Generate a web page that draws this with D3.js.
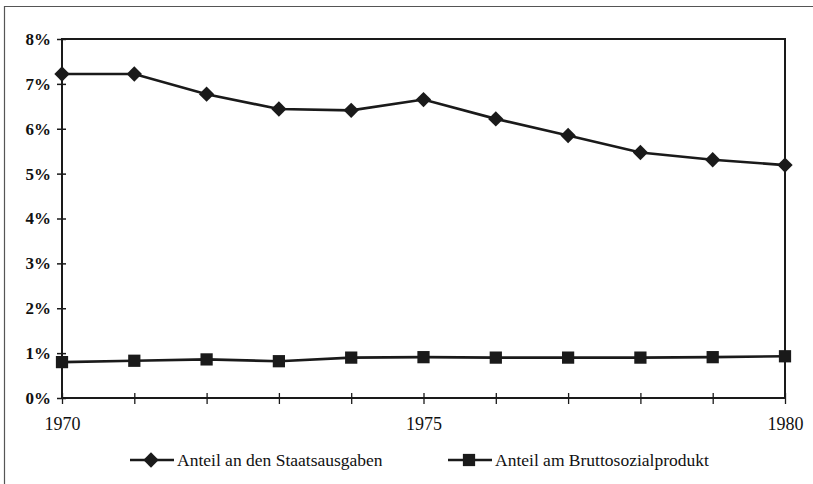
<!DOCTYPE html>
<html>
<head>
<meta charset="utf-8">
<script src="https://cdn.jsdelivr.net/npm/d3@7"></script>
<style>
  body { margin: 0; background: #fff; }
  svg text { font-family: "Liberation Serif", "Times New Roman", serif; fill: #111; }
</style>
</head>
<body>
<div id="container"></div>
<script>
// Data
const years = [1970, 1971, 1972, 1973, 1974, 1975, 1976, 1977, 1978, 1979, 1980];
const staatsausgaben = [7.22, 7.22, 6.77, 6.44, 6.41, 6.65, 6.22, 5.85, 5.47, 5.31, 5.19];
const bruttosozialprodukt = [0.80, 0.83, 0.86, 0.82, 0.90, 0.91, 0.90, 0.90, 0.90, 0.91, 0.93];
const yTicks = [0, 1, 2, 3, 4, 5, 6, 7, 8];
const xLabels = [1970, 1975, 1980];
const seriesNames = ["Anteil an den Staatsausgaben", "Anteil am Bruttosozialprodukt"];

const width = 813;
const height = 484;
const plot = { left: 62, right: 785, top: 39, bottom: 398 };

const svg = d3.select("#container")
    .append("svg")
    .attr("width", width)
    .attr("height", height);

// outer frame (only left and top visible in the scan)
svg.append("path")
    .attr("d", "M4.5,484 L4.5,6.5 L813,6.5")
    .attr("fill", "none")
    .attr("stroke", "#555")
    .attr("stroke-width", 1.2);

const x = d3.scaleLinear().domain([1970, 1980]).range([plot.left, plot.right]);
const y = d3.scaleLinear().domain([0, 8]).range([plot.bottom, plot.top]);

// plot frame
svg.append("rect")
    .attr("x", plot.left)
    .attr("y", plot.top)
    .attr("width", plot.right - plot.left)
    .attr("height", plot.bottom - plot.top)
    .attr("fill", "none")
    .attr("stroke", "#1a1a1a")
    .attr("stroke-width", 2);

// y axis
const yAxis = d3.axisLeft(y)
    .tickValues(yTicks)
    .tickFormat(d => d + "%")
    .tickSizeInner(5)
    .tickSizeOuter(0)
    .tickPadding(6);
const gy = svg.append("g")
    .attr("transform", `translate(${plot.left}, 0)`)
    .call(yAxis);
gy.select(".domain").remove();
gy.selectAll(".tick line")
    .attr("x1", -5).attr("x2", 4)
    .attr("stroke", "#1a1a1a").attr("stroke-width", 1.5);
gy.selectAll(".tick text")
    .attr("font-size", 17)
    .attr("font-weight", "bold")
    .attr("font-family", "Liberation Serif, serif");

// x axis
const xAxis = d3.axisBottom(x)
    .tickValues(years)
    .tickFormat(d => xLabels.includes(d) ? d : "")
    .tickSizeInner(6)
    .tickSizeOuter(0)
    .tickPadding(13);
const gx = svg.append("g")
    .attr("transform", `translate(0, ${plot.bottom})`)
    .call(xAxis);
gx.select(".domain").remove();
gx.selectAll(".tick line")
    .attr("y1", -5).attr("y2", 6)
    .attr("stroke", "#1a1a1a").attr("stroke-width", 1.3);
gx.selectAll(".tick text")
    .attr("font-size", 18)
    .attr("font-family", "Liberation Serif, serif");

// lines
const line = d3.line()
    .x((d, i) => x(years[i]))
    .y(d => y(d));

const diamond = d3.symbol().type(d3.symbolDiamond2).size(150);
const square = d3.symbol().type(d3.symbolSquare).size(150);

function drawSeries(values, sym) {
    svg.append("path")
        .datum(values)
        .attr("d", line)
        .attr("fill", "none")
        .attr("stroke", "#1a1a1a")
        .attr("stroke-width", 2.6);
    svg.append("g")
        .selectAll("path")
        .data(values)
        .enter()
        .append("path")
        .attr("d", sym)
        .attr("transform", (d, i) => `translate(${x(years[i])}, ${y(d)})`)
        .attr("fill", "#1a1a1a");
}

drawSeries(staatsausgaben, diamond);
drawSeries(bruttosozialprodukt, square);

// legend
const legend = [
    { x: 130, sym: diamond, name: seriesNames[0] },
    { x: 448, sym: square, name: seriesNames[1] }
];
const lg = svg.append("g").attr("transform", "translate(0, 460)");
legend.forEach(item => {
    lg.append("line")
        .attr("x1", item.x).attr("x2", item.x + 44)
        .attr("y1", 0).attr("y2", 0)
        .attr("stroke", "#1a1a1a")
        .attr("stroke-width", 2.4);
    lg.append("path")
        .attr("d", item.sym)
        .attr("transform", `translate(${item.x + 21}, 0)`)
        .attr("fill", "#1a1a1a");
    lg.append("text")
        .attr("x", item.x + 47)
        .attr("y", 5.5)
        .attr("font-size", 17.5)
        .text(item.name);
});
</script>
</body>
</html>
